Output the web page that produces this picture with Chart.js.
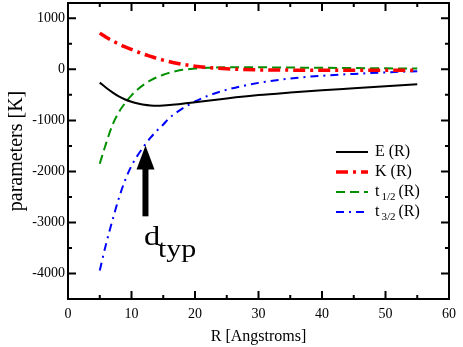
<!DOCTYPE html>
<html>
<head>
<meta charset="utf-8">
<script src="https://cdn.jsdelivr.net/npm/chart.js@4/dist/chart.umd.min.js"></script>
<style>
  html, body { margin: 0; padding: 0; background: #fff; }
</style>
</head>
<body>
<canvas id="graph" width="463" height="347"></canvas>
<script>
// R grid shared by all curves (Angstroms)
const rValues = [5, 6, 7, 8, 9, 10, 11, 12, 13, 14, 15, 16, 18, 20, 22, 25, 30, 35, 40, 45, 50, 55];
const eValues = [-260, -360, -450, -530, -590, -635, -670, -695, -708, -712, -708, -700, -675, -645, -615, -570, -505, -455, -410, -370, -330, -290];
const kValues = [710, 630, 560, 495, 440, 390, 340, 295, 255, 215, 180, 150, 100, 60, 35, 10, -10, -15, -20, -20, -20, -15];
const t12Values = [-1850, -1450, -1090, -840, -660, -510, -390, -295, -215, -155, -105, -65, -10, 15, 30, 40, 40, 35, 30, 25, 20, 15];
const t32Values = [-3940, -3420, -2960, -2530, -2170, -1890, -1680, -1500, -1340, -1200, -1080, -950, -770, -630, -520, -400, -265, -180, -125, -90, -60, -35];

const xTicks = [0, 10, 20, 30, 40, 50, 60];
const xMinorTicks = [5, 15, 25, 35, 45, 55];
const yTicks = [-4000, -3000, -2000, -1000, 0, 1000];
const yMinorTicks = [-3500, -2500, -1500, -500, 500];

// d_typ arrow (R position, shaft start, tip)
const arrowR = 12.2;
const arrowFrom = -2880;
const arrowTo = -1490;

const FONT = '"Liberation Serif", "Times New Roman", serif';

function pts(ys) {
    return rValues.map((r, i) => ({ x: r, y: ys[i] }));
}

const series = [
    { label: 'E', sub: '', data: eValues, color: '#000000', width: 2, dash: [] },
    { label: 'K', sub: '', data: kValues, color: '#ff0000', width: 3.5, dash: [12, 5, 3, 5] },
    { label: 't', sub: '1/2', data: t12Values, color: '#009000', width: 2, dash: [9, 5] },
    { label: 't', sub: '3/2', data: t32Values, color: '#0000ff', width: 2, dash: [8, 5, 2, 5] }
];

const decor = {
    id: 'decor',
    afterDraw(chart) {
        const { ctx, chartArea: a, scales: { x, y } } = chart;
        ctx.save();
        ctx.strokeStyle = '#000';
        ctx.lineWidth = 2;
        ctx.strokeRect(a.left, a.top, a.right - a.left, a.bottom - a.top);

        // inward ticks on all four sides
        ctx.beginPath();
        const xt = (v, len) => {
            const p = x.getPixelForValue(v);
            ctx.moveTo(p, a.bottom); ctx.lineTo(p, a.bottom - len);
            ctx.moveTo(p, a.top); ctx.lineTo(p, a.top + len);
        };
        const yt = (v, len) => {
            const p = y.getPixelForValue(v);
            ctx.moveTo(a.left, p); ctx.lineTo(a.left + len, p);
            ctx.moveTo(a.right, p); ctx.lineTo(a.right - len, p);
        };
        xTicks.forEach(v => xt(v, 8));
        xMinorTicks.forEach(v => xt(v, 4));
        yTicks.forEach(v => yt(v, 8));
        yMinorTicks.forEach(v => yt(v, 4));
        ctx.stroke();

        // legend
        let ly = 152;
        series.forEach(s => {
            ctx.beginPath();
            ctx.strokeStyle = s.color;
            ctx.lineWidth = s.width;
            ctx.setLineDash(s.dash);
            ctx.moveTo(336, ly); ctx.lineTo(368, ly);
            ctx.stroke();
            ctx.setLineDash([]);
            ctx.fillStyle = '#000';
            ctx.textBaseline = 'middle';
            ctx.font = '16px ' + FONT;
            let tx = 375;
            ctx.fillText(s.label, tx, ly);
            tx += ctx.measureText(s.label).width;
            if (s.sub) {
                ctx.font = '11px ' + FONT;
                ctx.fillText(s.sub, tx + 2, ly + 5);
                tx += ctx.measureText(s.sub).width + 5;
            } else {
                tx += 4;
            }
            ctx.font = '16px ' + FONT;
            ctx.fillText('(R)', tx, ly);
            ly += 20;
        });

        // d_typ arrow
        const ax = x.getPixelForValue(arrowR);
        const y0 = y.getPixelForValue(arrowFrom);
        const y1 = y.getPixelForValue(arrowTo);
        const headLen = 24;
        ctx.fillStyle = '#000';
        ctx.fillRect(ax - 3, y1 + headLen - 2, 6, y0 - (y1 + headLen - 2));
        ctx.beginPath();
        ctx.moveTo(ax, y1);
        ctx.lineTo(ax - 9, y1 + headLen);
        ctx.lineTo(ax + 9, y1 + headLen);
        ctx.closePath();
        ctx.fill();

        ctx.textBaseline = 'alphabetic';
        ctx.save();
        ctx.translate(144, 245);
        ctx.scale(1.2, 1);
        ctx.font = '27px ' + FONT;
        ctx.fillText('d', 0, 0);
        ctx.restore();
        ctx.save();
        ctx.translate(158, 257);
        ctx.scale(1.2, 1);
        ctx.font = '25px ' + FONT;
        ctx.fillText('typ', 0, 0);
        ctx.restore();
        ctx.restore();
    }
};

new Chart(document.getElementById('graph'), {
    type: 'scatter',
    data: {
        datasets: series.map(s => ({
            label: s.label + s.sub,
            data: pts(s.data),
            showLine: true,
            pointRadius: 0,
            borderColor: s.color,
            backgroundColor: s.color,
            borderWidth: s.width,
            borderDash: s.dash,
            cubicInterpolationMode: 'monotone'
        }))
    },
    options: {
        responsive: false,
        animation: false,
        layout: { padding: { top: 3, right: 10, left: 0, bottom: 0 } },
        plugins: { legend: { display: false }, tooltip: { enabled: false } },
        scales: {
            x: {
                type: 'linear',
                min: 0,
                max: 60,
                afterBuildTicks: s => { s.ticks = xTicks.map(v => ({ value: v })); },
                afterFit: s => { s.height = 48; },
                grid: { display: false, drawTicks: false },
                border: { display: false },
                ticks: {
                    color: '#000', padding: 7, maxRotation: 0,
                    font: { family: FONT, size: 14 },
                    callback: v => String(v)
                },
                title: {
                    display: true,
                    text: 'R [Angstroms]',
                    color: '#000',
                    padding: { top: 0, bottom: 1 },
                    font: { family: FONT, size: 16 }
                }
            },
            y: {
                type: 'linear',
                min: -4500,
                max: 1300,
                afterBuildTicks: s => { s.ticks = yTicks.map(v => ({ value: v })); },
                afterFit: s => { s.width = 68; s.paddingTop = 0; s.paddingBottom = 0; },
                grid: { display: false, drawTicks: false },
                border: { display: false },
                ticks: {
                    color: '#000', padding: 3,
                    font: { family: FONT, size: 14 },
                    callback: v => String(v)
                },
                title: {
                    display: true,
                    text: 'parameters [K]',
                    color: '#000',
                    padding: { top: 5, bottom: 0 },
                    font: { family: FONT, size: 20 }
                }
            }
        }
    },
    plugins: [decor]
});
</script>
</body>
</html>
